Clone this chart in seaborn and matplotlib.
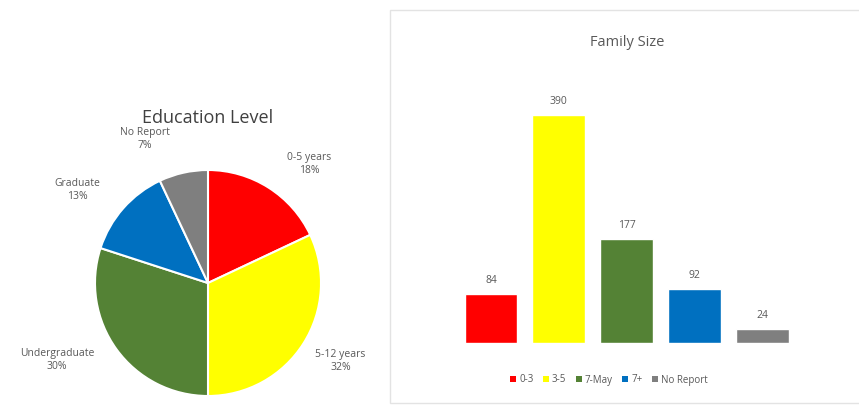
import matplotlib
matplotlib.use("Agg")
import matplotlib.pyplot as plt
import seaborn as sns
import numpy as np
import pandas as pd
from matplotlib.patches import Rectangle, Patch

# ---- data ----
edu_labels = ["0-5 years", "5-12 years", "Undergraduate", "Graduate", "No Report"]
edu_pct = [18, 32, 30, 13, 7]
edu_colors = ["#FF0000", "#FFFF00", "#548235", "#0070C0", "#7F7F7F"]

fam_labels = ["0-3", "3-5", "7-May", "7+", "No Report"]
fam_values = [84, 390, 177, 92, 24]
fam_colors = ["#FF0000", "#FFFF00", "#548235", "#0070C0", "#7F7F7F"]

sns.set_theme(style="white")
plt.rcParams["font.family"] = ["Open Sans", "DejaVu Sans"]

W, H = 859, 407
fig = plt.figure(figsize=(W / 100, H / 100), dpi=100)

def fx(px):
    return px / W

def fy(py):
    return (H - py) / H

# right panel border
fig.patches.append(Rectangle((fx(390), fy(403)), fx(470), (403 - 10) / H,
                             transform=fig.transFigure, fill=False,
                             edgecolor="#E3E3E3", linewidth=1.0))

# ---- pie ----
cx, cy, r = 208, 283, 113
ax1 = fig.add_axes([fx(cx - r), fy(cy + r), 2 * r / W, 2 * r / H])
wedges, texts = ax1.pie(edu_pct, colors=edu_colors, startangle=90, counterclock=False,
                        labels=[f"{l}\n{p}%" for l, p in zip(edu_labels, edu_pct)],
                        wedgeprops=dict(edgecolor="white", linewidth=1.5),
                        textprops=dict(fontsize=7.5, color="#595959"))
dists = [1.38, 1.36, 1.5, 1.42, 1.39]
shifts = [-8, 2, -9, 6, 11]
for w, t, d, s in zip(wedges, texts, dists, shifts):
    ang = np.deg2rad((w.theta1 + w.theta2) / 2 + s)
    t.set_position((d * np.cos(ang), d * np.sin(ang)))
    t.set_ha("center")
    t.set_va("center")
    t.set_multialignment("center")
ax1.set_xlim(-1, 1)
ax1.set_ylim(-1, 1)
ax1.set_aspect("auto")
fig.text(fx(208), fy(118), "Education Level", ha="center", va="center",
         fontsize=13, color="#404040")

# ---- bars ----
ppu = 0.585
ymax = 450
bottom_px = 343
left_px = 491 - 33.9
ax2 = fig.add_axes([fx(left_px), fy(bottom_px), 339 / W, ymax * ppu / H])
df = pd.DataFrame({"size": fam_labels, "count": fam_values})
sns.barplot(data=df, x="size", y="count", hue="size", palette=fam_colors,
            width=0.78, legend=False, ax=ax2, saturation=1)
ax2.set_xlim(-0.5, 4.5)
ax2.set_ylim(0, ymax)
for c in ax2.containers:
    ax2.bar_label(c, padding=6, fontsize=7.5, color="#595959")
ax2.axis("off")
fig.text(fx(627), fy(42), "Family Size", ha="center", va="center",
         fontsize=10.5, color="#595959")

handles = [Patch(facecolor=c, edgecolor="none") for c in fam_colors]
fig.legend(handles, fam_labels, loc="center", bbox_to_anchor=(fx(609), fy(380)),
           ncol=5, frameon=False, fontsize=7, labelcolor="#595959",
           handlelength=0.6, handleheight=0.6, handletextpad=0.3, columnspacing=1.0)

fig.savefig("out.png", dpi=100)
